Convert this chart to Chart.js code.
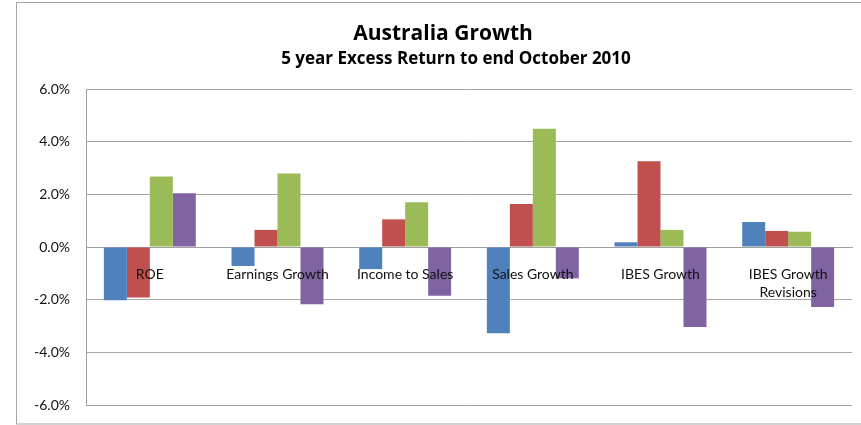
<!DOCTYPE html>
<html><head><meta charset="utf-8">
<script src="https://cdn.jsdelivr.net/npm/chart.js@4/dist/chart.umd.min.js"></script>
<style>html,body{margin:0;padding:0;background:#fff}#wrap{width:861px;height:425px;position:relative}</style>
</head><body><div id="wrap"><canvas id="c"></canvas></div>
<script>
const titleText = 'Australia Growth';
const subtitleText = '5 year Excess Return to end October 2010';
const categories = ['ROE', 'Earnings Growth', 'Income to Sales', 'Sales Growth', 'IBES Growth', ['IBES Growth', 'Revisions']];
const series1 = [-2.02, -0.72, -0.84, -3.28, 0.18, 0.95];
const series2 = [-1.92, 0.65, 1.05, 1.63, 3.26, 0.61];
const series3 = [2.68, 2.79, 1.70, 4.49, 0.65, 0.58];
const series4 = [2.04, -2.17, -1.85, -1.19, -3.04, -2.28];
const yTicks = [-6, -4, -2, 0, 2, 4, 6];

const frameAndTitle = {
  id: 'frameAndTitle',
  afterDraw(chart) {
    const ctx = chart.ctx;
    ctx.save();
    ctx.strokeStyle = '#a6a6a6';
    ctx.lineWidth = 1;
    ctx.strokeRect(16.5, 2.5, 900, 421.5);
    ctx.fillStyle = '#000';
    ctx.textAlign = 'center';
    ctx.textBaseline = 'middle';
    ctx.font = 'bold 21px "Open Sans"';
    ctx.fillText(titleText, 443, 34);
    ctx.font = 'bold 17px "Open Sans"';
    ctx.fillText(subtitleText, 456, 59);
    ctx.restore();
  }
};

new Chart(document.getElementById('c'), {
  type: 'bar',
  data: {
    labels: categories,
    datasets: [
      { data: series1, backgroundColor: '#4F81BD' },
      { data: series2, backgroundColor: '#C0504D' },
      { data: series3, backgroundColor: '#9BBB59' },
      { data: series4, backgroundColor: '#8064A2' }
    ]
  },
  options: {
    responsive: true,
    maintainAspectRatio: false,
    animation: false,
    devicePixelRatio: 1,
    layout: { padding: { left: 16, right: 9, top: 89, bottom: 20 } },
    datasets: { bar: { categoryPercentage: 0.72, barPercentage: 1.0 } },
    plugins: { legend: { display: false }, tooltip: { enabled: false }, title: { display: false } },
    scales: {
      x: {
        position: { y: 0 },
        afterFit(scale) { scale.height = 0; },
        grid: { display: false, drawTicks: false },
        border: { display: true, color: '#a0a0a0', width: 1 },
        ticks: { z: 1, color: '#111', font: { family: 'Lato', size: 14, lineHeight: 1.3 }, padding: 18, maxRotation: 0, autoSkip: false }
      },
      y: {
        min: -6, max: 6,
        afterFit(scale) { scale.width = 70; scale.paddingTop = 0; scale.paddingBottom = 0; },
        afterBuildTicks(scale) { scale.ticks = yTicks.map(v => ({ value: v })); },
        grid: { color: '#a6a6a6', drawTicks: false, lineWidth: 1 },
        border: { display: true, color: '#a0a0a0' },
        ticks: { color: '#111', font: { family: 'Lato', size: 14 }, padding: 16,
          callback: v => v.toFixed(1) + '%' }
      }
    }
  },
  plugins: [frameAndTitle]
});
</script></body></html>
